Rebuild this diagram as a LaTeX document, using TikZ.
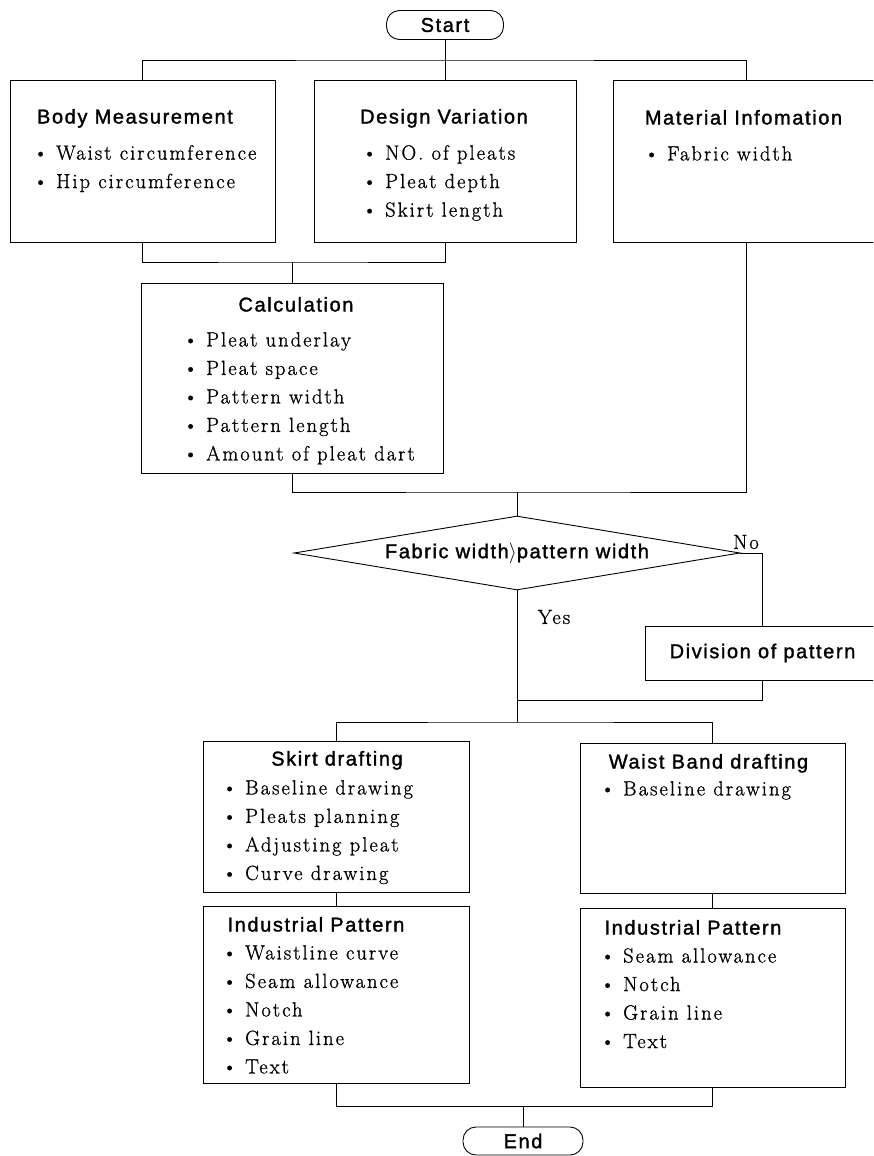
\documentclass[tikz,border=0pt]{standalone}
\usepackage{fontspec}
\newfontfamily\chartsans[LetterSpace=8, FakeBold=1.5]{Liberation Sans}
\newfontfamily\chartserif[LetterSpace=10, FakeBold=1]{Latin Modern Roman}
\usetikzlibrary{calc,positioning,shapes.geometric}
\tikzset{
    box/.style = {draw, line width=.9pt, rectangle, inner sep=0pt},
    terminal/.style = {draw, line width=.9pt, rounded corners=13pt, inner sep=0pt,
        minimum width=117pt, minimum height=29pt, font=\chartsans\fontsize{20}{22}\selectfont},
    decision/.style = {draw, line width=.9pt, diamond, shape aspect=6, inner sep=0pt,
        minimum width=446pt, minimum height=74pt, font=\chartsans\fontsize{20}{22}\selectfont},
    headtext/.style = {anchor=base, inner sep=0pt, font=\chartsans\fontsize{20}{22}\selectfont},
    itemtext/.style = {anchor=north west, inner sep=0pt, align=left,
        font=\chartserif\fontsize{20.5}{28.5}\selectfont},
    answer/.style = {inner sep=0pt, font=\chartserif\fontsize{20.5}{24}\selectfont},
    flowline/.style = {line width=.9pt}
}
\newcommand\bul{\textbullet\ }

\begin{document}
\begin{tikzpicture}[x=1pt, y=-1pt]
    \useasboundingbox (0,0) rectangle (873,1156);
    \clip (0,0) rectangle (873,1156);

    \node[terminal] (start) at (445,25) {Start};
    \node[box, minimum width=265pt, minimum height=162pt] (body) at (142.5,161) {};
    \node[box, minimum width=262pt, minimum height=162pt] (design) at (445,161) {};
    \node[box, minimum width=267pt, minimum height=162pt] (material) at (746.5,161) {};
    \node[box, minimum width=302pt, minimum height=190pt] (calc) at (292,378) {};
    \node[decision] (fabric) at (517,553) {Fabric width$\rangle$pattern width};
    \node[box, minimum width=235pt, minimum height=54pt,
          font=\chartsans\fontsize{20}{22}\selectfont] (division) at (762.5,653) {Division of pattern};
    \node[box, minimum width=266pt, minimum height=151pt] (skirt) at (336,816.5) {};
    \node[box, minimum width=266pt, minimum height=177pt] (indleft) at (336,994.5) {};
    \node[box, minimum width=265pt, minimum height=150pt] (waist) at (712.5,818) {};
    \node[box, minimum width=265pt, minimum height=179pt] (indright) at (712.5,997.5) {};
    \node[terminal, minimum width=120pt, minimum height=28pt] (end) at (523,1141) {End};

    \node[headtext] (body-t) at (135,123.5) {Body Measurement};
    \node[headtext] (design-t) at (444,123.5) {Design Variation};
    \node[headtext] (material-t) at (743.5,124.5) {Material Infomation};
    \node[headtext] (calc-t) at (296,311.5) {Calculation};
    \node[headtext] (skirt-t) at (337,765.5) {Skirt drafting};
    \node[headtext] (indleft-t) at (316,931.5) {Industrial Pattern};
    \node[headtext] (waist-t) at (708.5,768.5) {Waist Band drafting};
    \node[headtext] (indright-t) at (693,934.5) {Industrial Pattern};

    \node[itemtext] (body-i) at (33,145) {\bul Waist circumference\\\bul Hip circumference};
    \node[itemtext] (design-i) at (362,145) {\bul NO. of pleats\\\bul Pleat depth\\\bul Skirt length};
    \node[itemtext] (material-i) at (644,146) {\bul Fabric width};
    \node[itemtext] (calc-i) at (183,332) {\bul Pleat underlay\\\bul Pleat space\\\bul Pattern width\\
        \bul Pattern length\\\bul Amount of pleat dart};
    \node[itemtext] (skirt-i) at (222,780) {\bul Baseline drawing\\\bul Pleats planning\\
        \bul Adjusting pleat\\\bul Curve drawing};
    \node[itemtext] (indleft-i) at (222,945) {\bul Waistline curve\\\bul Seam allowance\\\bul Notch\\
        \bul Grain line\\\bul Text};
    \node[itemtext] (waist-i) at (600,781) {\bul Baseline drawing};
    \node[itemtext] (indright-i) at (600,948) {\bul Seam allowance\\\bul Notch\\\bul Grain line\\\bul Text};

    \node[answer] (no) at (746,542) {No};
    \node[answer] (yes) at (554,617) {Yes};

    \coordinate (bus-top) at (445,60);
    \coordinate (bus-calc) at (292,262);
    \coordinate (bus-fab) at (517,492);
    \coordinate (bus-yes) at (517,700);
    \coordinate (bus-split) at (517,722);
    \coordinate (bus-end) at (523,1106);

    \draw[flowline] (start) -- (design);
    \draw[flowline] (body.north) |- (bus-top) -| (material.north);
    \draw[flowline] (body.south) |- (bus-calc) -| (design.south);
    \draw[flowline] (bus-calc) -- (calc.north);
    \draw[flowline] (calc.south) |- (bus-fab) -| (material.south);
    \draw[flowline] (bus-fab) -- (fabric.north);
    \draw[flowline] (fabric.east) -| (division.north);
    \draw[flowline] (division.south) |- (bus-yes);
    \draw[flowline] (fabric.south) -- (bus-split);
    \draw[flowline] (skirt.north) |- (bus-split) -| (waist.north);
    \draw[flowline] (skirt) -- (indleft);
    \draw[flowline] (waist) -- (indright);
    \draw[flowline] (indleft.south) |- (bus-end) -| (indright.south);
    \draw[flowline] (bus-end) -- (end.north);
\end{tikzpicture}
\end{document}
